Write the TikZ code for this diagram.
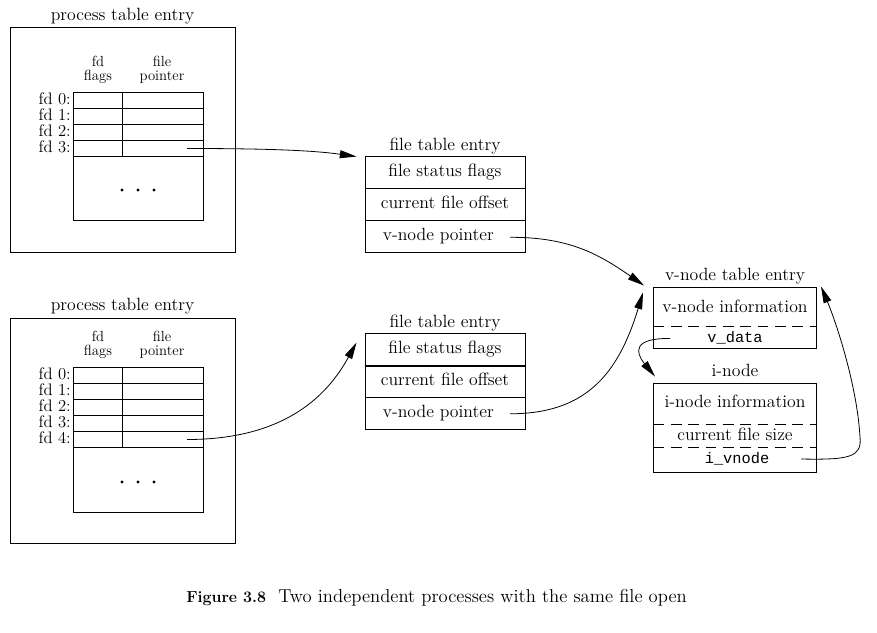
\documentclass[tikz,border=0pt]{standalone}
\usepackage{fontspec}
\setmonofont{Liberation Mono}
\usetikzlibrary{arrows.meta}
\begin{document}
\begin{tikzpicture}[x=0.75pt,y=-0.75pt,
  every node/.style={inner sep=0pt, font=\fontsize{13.3}{15}\selectfont},
  lbl/.style={anchor=base},
  hdr/.style={anchor=north, align=center, font=\fontsize{11}{10.5}\selectfont},
  fdl/.style={anchor=base east, font=\fontsize{12.5}{13}\selectfont},
  mono/.style={anchor=base, font=\ttfamily\fontsize{11.5}{13}\selectfont},
  pbox/.style={draw, line width=0.75pt, minimum width=168.75pt, minimum height=168.75pt},
  frow/.style={draw, line width=0.75pt, minimum width=120pt, minimum height=24.25pt, text height=9pt, text depth=3pt},
  vbox/.style={draw, line width=0.75pt, minimum width=122.25pt},
  cell/.style={line width=0.75pt},
  sep/.style={line width=0.6pt, dash pattern=on 8pt off 5pt},
  conn/.style={line width=0.6pt, -{Triangle[length=12.5pt,width=6pt]}},
  dot/.style={fill=black},
]
\useasboundingbox (0,0) rectangle (877,632);

% ---------- process table entry 1 ----------
\node[pbox] (pA) at (122.5,139.5) {};
\node[lbl] (pAt) at (122.5,20) {process table entry};
\node[hdr] (pAh1) at (98,56) {fd\\flags};
\node[hdr] (pAh2) at (162,56) {file\\pointer};
\draw[cell] (73,92) rectangle (203,220);
\foreach \yy in {108,124,140,156} \draw[cell] (73,\yy) -- (203,\yy);
\draw[cell] (122,92) -- (122,156);
\node[fdl] (pAl0) at (71,104.5) {fd 0:};
\node[fdl] (pAl1) at (71,120.5) {fd 1:};
\node[fdl] (pAl2) at (71,136.5) {fd 2:};
\node[fdl] (pAl3) at (71,152.5) {fd 3:};
\foreach \xx in {122,138,154} \fill[dot] (\xx,190) circle (1.7);
\coordinate (pAout) at (187,148.5);

% ---------- process table entry 2 ----------
\node[pbox] (pB) at (122.5,431) {};
\node[lbl] (pBt) at (122.5,310) {process table entry};
\node[hdr] (pBh1) at (98,331) {fd\\flags};
\node[hdr] (pBh2) at (162,331) {file\\pointer};
\draw[cell] (73,367) rectangle (203,512);
\foreach \yy in {383,399,415,431,447} \draw[cell] (73,\yy) -- (203,\yy);
\draw[cell] (122,367) -- (122,447);
\node[fdl] (pBl0) at (71,379.5) {fd 0:};
\node[fdl] (pBl1) at (71,395.5) {fd 1:};
\node[fdl] (pBl2) at (71,411.5) {fd 2:};
\node[fdl] (pBl3) at (71,427.5) {fd 3:};
\node[fdl] (pBl4) at (71,443.5) {fd 4:};
\foreach \xx in {122,138,154} \fill[dot] (\xx,482) circle (1.7);
\coordinate (pBout) at (187,439.5);

% ---------- file table entry 1 ----------
\node[lbl] (ftAt) at (445,150) {file table entry};
\node[frow] (ftA1) at (445,172.2) {file status flags};
\node[frow] (ftA2) at (445,204.5) {current file offset};
\node[frow] (ftA3) at (445,236.8) {v-node pointer\hspace*{10pt}};
\coordinate (ftAin) at ([shift={(-8,1)}]ftA1.north west);
\coordinate (ftAout) at ([shift={(65,0.5)}]ftA3.center);

% ---------- file table entry 2 ----------
\node[lbl] (ftBt) at (445,327) {file table entry};
\node[frow] (ftB1) at (445,349.2) {file status flags};
\node[frow] (ftB2) at (445,381.5) {current file offset};
\node[frow] (ftB3) at (445,413.8) {v-node pointer\hspace*{10pt}};
\draw[line width=1.6pt] (ftB1.south west) -- (ftB1.south east);
\coordinate (ftBin) at ([shift={(-8,10)}]ftB1.north west);
\coordinate (ftBout) at ([shift={(65,0)}]ftB3.center);

% ---------- v-node table entry ----------
\node[lbl] (vtt) at (735,280) {v-node table entry};
\node[vbox, minimum height=45.75pt] (vt) at (735,317.5) {};
\draw[sep] (653.5,326) -- (816.5,326);
\node[lbl] (vti) at (735,312) {v-node information};
\node[mono] (vtd) at (735,342) {v\_data};
\coordinate (vtin1) at ([shift={(-9,-1)}]vt.north west);
\coordinate (vtin2) at ([shift={(-10,6)}]vt.north west);
\coordinate (vtin3) at ([shift={(4,0)}]vt.north east);
\coordinate (vtout) at ([shift={(17,21)}]vt.west);

% ---------- i-node ----------
\node[lbl] (int) at (735,376) {i-node};
\node[vbox, minimum height=66.75pt] (in) at (735,427.5) {};
\draw[sep] (653.5,424) -- (816.5,424);
\draw[sep] (653.5,447) -- (816.5,447);
\node[lbl] (ini) at (735,407) {i-node information};
\node[lbl] (ins) at (735,440) {current file size};
\node[mono] (inv) at (737,463) {i\_vnode};
\coordinate (inin) at ([shift={(2,-6)}]in.north west);
\coordinate (inout) at ([shift={(-16,31.5)}]in.east);

% ---------- connectors ----------
\draw[conn] (pAout) .. controls (260,148.5) and (310,150) .. (ftAin);
\draw[conn] (pBout) .. controls (280,439.5) and (325,400) .. (ftBin);
\draw[conn] (ftAout) .. controls (570,237) and (600,255) .. (vtin1);
\draw[conn] (ftBout) .. controls (585,413.8) and (618,375) .. (vtin2);
\draw[conn] (vtout) .. controls (633,338) and (635,352) .. (inin);
\draw[conn] (inout) .. controls (850,460) and (862,457) .. (860,437)
                    .. controls (857,385) and (836,322) .. (vtin3);

% ---------- caption ----------
\node[anchor=base west, font=\bfseries\fontsize{12}{14}\selectfont] (capA) at (186,602) {Figure 3.8};
\node[anchor=base west, font=\fontsize{14}{16}\selectfont] (capB) at (278,602) {Two independent processes with the same file open};
\end{tikzpicture}
\end{document}
